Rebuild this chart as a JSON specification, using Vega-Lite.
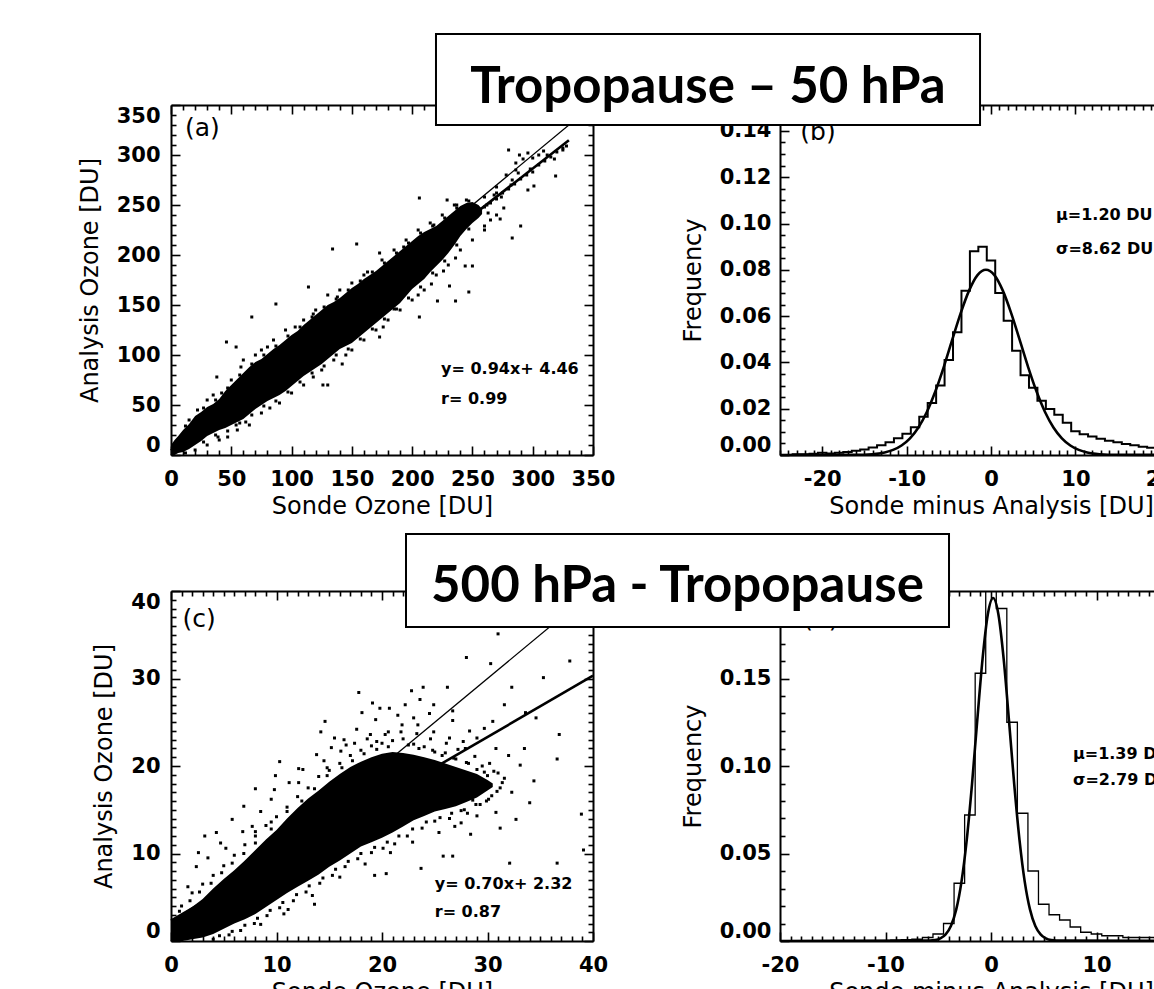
{
  "$schema": "https://vega.github.io/schema/vega-lite/v6.json",
  "padding": {"left": 78, "top": 32, "right": 0, "bottom": 0},
  "background": "white",
  "columns": 2,
  "spacing": {"row": 136, "column": 187},
  "bounds": "flush",
  "datasets": {
    "a_band": [
      {"x":0,"lo":0,"hi":10},{"x":3,"lo":0,"hi":15},{"x":6,"lo":2,"hi":19},{"x":10,"lo":3,"hi":25},{"x":15,"lo":6,"hi":31},
      {"x":20,"lo":10,"hi":39},{"x":25,"lo":14,"hi":43},{"x":30,"lo":19,"hi":48},{"x":35,"lo":22,"hi":51},{"x":40,"lo":25,"hi":56},
      {"x":45,"lo":27,"hi":64},{"x":50,"lo":30,"hi":70},{"x":55,"lo":33,"hi":76},{"x":60,"lo":36,"hi":82},{"x":65,"lo":41,"hi":88},
      {"x":70,"lo":46,"hi":93},{"x":75,"lo":50,"hi":96},{"x":80,"lo":54,"hi":101},{"x":85,"lo":57,"hi":106},{"x":90,"lo":60,"hi":110},
      {"x":95,"lo":64,"hi":115},{"x":100,"lo":69,"hi":120},{"x":105,"lo":74,"hi":124},{"x":110,"lo":79,"hi":130},{"x":115,"lo":83,"hi":135},
      {"x":120,"lo":87,"hi":140},{"x":125,"lo":91,"hi":145},{"x":130,"lo":96,"hi":150},{"x":135,"lo":101,"hi":153},{"x":140,"lo":106,"hi":157},
      {"x":145,"lo":109,"hi":162},{"x":150,"lo":112,"hi":167},{"x":155,"lo":117,"hi":171},{"x":160,"lo":122,"hi":176},{"x":165,"lo":127,"hi":180},
      {"x":170,"lo":132,"hi":184},{"x":175,"lo":137,"hi":189},{"x":180,"lo":142,"hi":194},{"x":185,"lo":147,"hi":199},{"x":190,"lo":152,"hi":204},
      {"x":195,"lo":159,"hi":209},{"x":200,"lo":166,"hi":214},{"x":205,"lo":171,"hi":219},{"x":210,"lo":176,"hi":223},{"x":215,"lo":183,"hi":226},
      {"x":220,"lo":189,"hi":229},{"x":225,"lo":195,"hi":234},{"x":230,"lo":202,"hi":239},{"x":235,"lo":210,"hi":244},{"x":240,"lo":219,"hi":249},
      {"x":245,"lo":226,"hi":252},{"x":250,"lo":232,"hi":253},{"x":255,"lo":237,"hi":250},{"x":258,"lo":241,"hi":246}
    ],
    "a_pts": [
      {"x":206,"y":257},{"x":229,"y":255},{"x":237,"y":250},{"x":154,"y":211},{"x":134,"y":206},{"x":173,"y":202},{"x":244,"y":236},
      {"x":270,"y":262},{"x":276,"y":247},{"x":283,"y":275},{"x":289,"y":300},{"x":296,"y":265},{"x":301,"y":269},{"x":319,"y":279},
      {"x":283,"y":217},{"x":247,"y":163},{"x":236,"y":154},{"x":206,"y":138},{"x":221,"y":154},{"x":231,"y":169},{"x":244,"y":189},
      {"x":250,"y":189},{"x":263,"y":242},{"x":273,"y":236},{"x":290,"y":229},{"x":114,"y":168},{"x":87,"y":151},{"x":67,"y":138},
      {"x":46,"y":113},{"x":54,"y":108},{"x":38,"y":78},{"x":126,"y":70},{"x":130,"y":70},{"x":142,"y":91},{"x":173,"y":118},{"x":47,"y":18},
      {"x":39,"y":18},{"x":54,"y":30},{"x":64,"y":46},{"x":185,"y":146},{"x":216,"y":171},{"x":260,"y":229},{"x":280,"y":305},
      {"x":309,"y":304},{"x":325,"y":305},{"x":296,"y":302},{"x":286,"y":292},
      {"x":30,"y":55},{"x":35,"y":60},{"x":22,"y":45},{"x":15,"y":35},{"x":60,"y":95},{"x":70,"y":100},{"x":50,"y":75},{"x":75,"y":105},
      {"x":85,"y":115},{"x":95,"y":125},{"x":110,"y":135},{"x":120,"y":145},{"x":130,"y":160},{"x":140,"y":165},{"x":150,"y":172},
      {"x":160,"y":180},{"x":175,"y":195},{"x":185,"y":205},{"x":195,"y":215},{"x":205,"y":225},{"x":215,"y":232},{"x":225,"y":240},
      {"x":235,"y":250},{"x":245,"y":255},
      {"x":20,"y":5},{"x":30,"y":10},{"x":40,"y":15},{"x":55,"y":25},{"x":65,"y":30},{"x":75,"y":42},{"x":90,"y":52},{"x":100,"y":62},
      {"x":110,"y":70},{"x":125,"y":85},{"x":135,"y":95},{"x":150,"y":105},{"x":160,"y":115},{"x":170,"y":125},{"x":180,"y":135},
      {"x":190,"y":145},{"x":200,"y":155},{"x":210,"y":165},{"x":220,"y":180},{"x":230,"y":190},{"x":240,"y":205},{"x":250,"y":215},
      {"x":260,"y":225},{"x":265,"y":235},{"x":270,"y":240},
      {"x":255,"y":245},{"x":260,"y":248},{"x":265,"y":252},{"x":270,"y":256},{"x":275,"y":262},{"x":280,"y":266},{"x":285,"y":271},
      {"x":290,"y":276},{"x":295,"y":280},{"x":300,"y":283},{"x":305,"y":290},{"x":310,"y":294},{"x":315,"y":298},{"x":320,"y":303},
      {"x":325,"y":307},{"x":328,"y":309},{"x":260,"y":258},{"x":270,"y":268},{"x":278,"y":280},{"x":286,"y":285},{"x":292,"y":296},
      {"x":300,"y":297},{"x":305,"y":300},{"x":262,"y":250},{"x":268,"y":260},{"x":274,"y":258},{"x":282,"y":270},{"x":288,"y":282},
      {"x":298,"y":286},{"x":312,"y":300},{"x":318,"y":296},
      {"x":42,"y":62},{"x":58,"y":88},{"x":80,"y":108},{"x":103,"y":128},{"x":118,"y":141},{"x":138,"y":158},{"x":163,"y":183},
      {"x":193,"y":208},{"x":218,"y":230},{"x":62,"y":33},{"x":82,"y":47},{"x":118,"y":78},{"x":145,"y":100},{"x":176,"y":128},
      {"x":205,"y":160},{"x":226,"y":184},{"x":236,"y":197},
      {"x":12,"y":29},{"x":27,"y":47},{"x":37,"y":55},{"x":47,"y":67},{"x":57,"y":80},{"x":67,"y":91},{"x":77,"y":100},{"x":87,"y":109},
      {"x":97,"y":119},{"x":107,"y":128},{"x":117,"y":138},{"x":127,"y":148},{"x":137,"y":156},{"x":147,"y":165},{"x":157,"y":174},
      {"x":167,"y":183},{"x":177,"y":192},{"x":187,"y":202},{"x":197,"y":212},{"x":207,"y":222},{"x":217,"y":229},{"x":227,"y":237},
      {"x":237,"y":247},{"x":247,"y":254},
      {"x":12,"y":2},{"x":27,"y":13},{"x":37,"y":20},{"x":47,"y":24},{"x":57,"y":32},{"x":67,"y":40},{"x":77,"y":49},{"x":87,"y":54},
      {"x":97,"y":63},{"x":107,"y":73},{"x":117,"y":82},{"x":127,"y":89},{"x":137,"y":100},{"x":147,"y":106},{"x":157,"y":116},
      {"x":167,"y":126},{"x":177,"y":136},{"x":187,"y":146},{"x":197,"y":157},{"x":207,"y":168},{"x":217,"y":182},{"x":227,"y":194},
      {"x":237,"y":210},{"x":247,"y":226}
    ],
    "a_lines": [
      {"line":"one","x":0,"y":0},{"line":"one","x":350,"y":350},
      {"line":"fit","x":0,"y":4.46},{"line":"fit","x":330,"y":314.66}
    ],
    "c_band": [
      {"x":0,"lo":0,"hi":2.3},{"x":0.5,"lo":0,"hi":2.7},{"x":1,"lo":0,"hi":3.1},{"x":1.5,"lo":0.1,"hi":3.5},{"x":2,"lo":0.2,"hi":3.9},
      {"x":3,"lo":0.4,"hi":4.8},{"x":4,"lo":0.8,"hi":6.0},{"x":5,"lo":1.4,"hi":7.1},{"x":6,"lo":2.0,"hi":8.1},{"x":7,"lo":2.5,"hi":9.2},
      {"x":8,"lo":3.1,"hi":10.4},{"x":9,"lo":3.9,"hi":11.6},{"x":10,"lo":4.7,"hi":12.7},{"x":11,"lo":5.5,"hi":14.0},{"x":12,"lo":6.2,"hi":15.2},
      {"x":13,"lo":6.9,"hi":16.3},{"x":14,"lo":7.6,"hi":17.2},{"x":15,"lo":8.5,"hi":18.2},{"x":16,"lo":9.2,"hi":19.1},{"x":17,"lo":10.0,"hi":19.9},
      {"x":18,"lo":10.8,"hi":20.5},{"x":19,"lo":11.3,"hi":21.0},{"x":20,"lo":11.8,"hi":21.4},{"x":21,"lo":12.4,"hi":21.6},{"x":22,"lo":13.1,"hi":21.5},
      {"x":23,"lo":13.8,"hi":21.3},{"x":24,"lo":14.3,"hi":21.0},{"x":25,"lo":14.8,"hi":20.7},{"x":26,"lo":15.1,"hi":20.3},{"x":27,"lo":15.4,"hi":19.9},
      {"x":28,"lo":15.9,"hi":19.5},{"x":29,"lo":16.4,"hi":19.1},{"x":30,"lo":17.2,"hi":18.4},{"x":30.5,"lo":17.6,"hi":18.0}
    ],
    "c_pts": [
      {"x":17.8,"y":28.4},{"x":19.1,"y":27.2},{"x":18.1,"y":26.1},{"x":19.8,"y":26.6},{"x":20.7,"y":26.6},{"x":22.8,"y":28.6},{"x":23.9,"y":29.0},
      {"x":23.6,"y":27.6},{"x":26.2,"y":29.0},{"x":28.0,"y":32.4},{"x":30.3,"y":31.7},{"x":31.0,"y":35.1},{"x":34.0,"y":36.3},{"x":35.3,"y":30.1},
      {"x":33.6,"y":26.1},{"x":37.8,"y":32.0},{"x":36.8,"y":23.6},{"x":36.6,"y":20.8},{"x":38.9,"y":14.5},{"x":39.1,"y":10.4},{"x":36.6,"y":8.9},
      {"x":32.1,"y":8.9},{"x":26.7,"y":9.7},{"x":25.8,"y":9.7},{"x":23.7,"y":8.3},{"x":20.4,"y":7.7},{"x":19.3,"y":7.5},{"x":13.6,"y":4.2},
      {"x":10.7,"y":3.1},{"x":28.4,"y":12.2},{"x":31.2,"y":12.9},{"x":32.7,"y":13.9},{"x":34.0,"y":15.8},{"x":32.3,"y":17.0},{"x":34.4,"y":18.3},
      {"x":33.1,"y":20.1},{"x":32.0,"y":21.2},{"x":33.5,"y":22.0},{"x":30.8,"y":22.0},{"x":29.7,"y":19.3},{"x":28.6,"y":17.8},{"x":30.1,"y":16.2},
      {"x":30.8,"y":14.7},{"x":29.0,"y":14.3},{"x":27.5,"y":13.5},{"x":24.9,"y":23.9},{"x":26.4,"y":23.2},{"x":27.7,"y":22.8},{"x":23.4,"y":24.7},
      {"x":21.9,"y":24.7},{"x":20.6,"y":23.9},{"x":18.9,"y":23.6},{"x":16.6,"y":22.4},{"x":15.5,"y":23.2},{"x":14.6,"y":25.1},{"x":14.2,"y":23.9},
      {"x":12.1,"y":19.7},{"x":10.3,"y":20.5},{"x":9.9,"y":18.9},{"x":9.5,"y":16.2},{"x":8.0,"y":17.4},{"x":6.9,"y":15.4},{"x":5.8,"y":13.9},
      {"x":4.3,"y":12.4},{"x":3.2,"y":12.0},{"x":2.4,"y":8.5},{"x":4.7,"y":11.2},{"x":7.7,"y":13.1},{"x":12.1,"y":18.1},{"x":32.3,"y":29.0},
      {"x":34.6,"y":25.5},{"x":29.7,"y":24.3},{"x":31.6,"y":27.0},{"x":26.7,"y":26.3},{"x":24.9,"y":27.0},{"x":22.2,"y":27.0},{"x":23.0,"y":25.5},
      {"x":27.9,"y":22.0},{"x":29.0,"y":23.2},{"x":30.5,"y":25.1},
      {"x":13,"y":17.5},{"x":14,"y":18.8},{"x":15,"y":19.5},{"x":16,"y":20.3},{"x":17,"y":21.2},{"x":18,"y":21.8},{"x":19,"y":22.3},{"x":20,"y":22.6},
      {"x":21,"y":22.9},{"x":22,"y":23.1},{"x":23,"y":22.5},{"x":24,"y":22.2},{"x":25,"y":21.6},{"x":26,"y":21.5},{"x":27,"y":20.8},{"x":28,"y":20.4},
      {"x":29,"y":19.6},{"x":30,"y":18.9},{"x":31,"y":19.2},{"x":29.5,"y":17.2},{"x":28.6,"y":16.1},{"x":27.5,"y":14.9},{"x":26.4,"y":14.0},
      {"x":25,"y":13.7},{"x":23.8,"y":12.9},{"x":22.4,"y":12.0},{"x":21.2,"y":11.1},{"x":20.1,"y":10.6},{"x":19,"y":10.1},{"x":17.7,"y":9.4},
      {"x":16.5,"y":8.5},{"x":15.3,"y":7.5},{"x":14.1,"y":6.6},{"x":12.8,"y":5.6},{"x":11.6,"y":4.6},{"x":10.3,"y":3.8},{"x":9.1,"y":2.9},
      {"x":7.9,"y":2.0},{"x":6.6,"y":1.2},{"x":5.5,"y":0.7},{"x":4,"y":0.2},
      {"x":1,"y":4},{"x":2,"y":5.5},{"x":3,"y":6.5},{"x":4,"y":7.5},{"x":5,"y":8.6},{"x":6,"y":9.8},{"x":7,"y":11},{"x":8,"y":12},{"x":9,"y":13.2},
      {"x":10,"y":14.2},{"x":11,"y":15.3},{"x":12,"y":16.5},{"x":3.5,"y":9.5},{"x":5.2,"y":10.6},{"x":6.8,"y":12.5},{"x":8.5,"y":14.8},
      {"x":9.8,"y":17.3},{"x":11.2,"y":18.1},{"x":12.5,"y":19.6},{"x":13.8,"y":21.3},{"x":15.2,"y":22.1},{"x":16.4,"y":23},{"x":17.6,"y":24.2},
      {"x":19.4,"y":25.3},{"x":21.5,"y":25.8},{"x":24.5,"y":26},{"x":26.7,"y":25.2},{"x":28.3,"y":24},
      {"x":14.5,"y":20.6},{"x":16.1,"y":21.7},{"x":17.4,"y":22.6},{"x":18.6,"y":23.1},{"x":20.3,"y":23.6},{"x":21.8,"y":23.9},{"x":23.3,"y":23.7},
      {"x":24.6,"y":23.1},{"x":26.1,"y":22.6},{"x":27.2,"y":21.9},{"x":28.8,"y":21.1},{"x":30.2,"y":20.3},{"x":31.4,"y":18.1},{"x":30.9,"y":17.1},
      {"x":29.3,"y":15.6},{"x":28.1,"y":14.6},{"x":26.9,"y":13.1},{"x":25.4,"y":12.4},{"x":22.9,"y":11.3},{"x":20.8,"y":10.1},{"x":18.4,"y":8.8},
      {"x":16.0,"y":7.3},{"x":13.4,"y":5.2},{"x":11.1,"y":3.6},{"x":8.5,"y":1.9},{"x":2.6,"y":10.1},{"x":1.6,"y":6.2},
      {"x":8,"y":11.2},{"x":8,"y":12.5},{"x":9.5,"y":12.8},{"x":9.5,"y":13.6},{"x":11,"y":14.8},{"x":12.4,"y":16.0},{"x":13.6,"y":17.4},
      {"x":14.8,"y":18.9},{"x":14.8,"y":19.8},{"x":16.2,"y":19.8},{"x":17.2,"y":20.6},{"x":18.3,"y":21.4},{"x":19.5,"y":21.9},{"x":19.5,"y":22.8},
      {"x":20.6,"y":22.2},{"x":22.5,"y":22.4},{"x":23.5,"y":22.0},{"x":24.8,"y":21.8},{"x":25.7,"y":21.2},{"x":26.8,"y":20.9},{"x":28.2,"y":20.3},
      {"x":29.5,"y":20.0},{"x":30.6,"y":19.4},{"x":31.6,"y":18.6},{"x":31.2,"y":17.5},{"x":30.4,"y":16.6},{"x":29.9,"y":16.0},{"x":28.9,"y":15.6},
      {"x":27.8,"y":15.0},{"x":26.6,"y":14.6},{"x":25.5,"y":14.1},{"x":24.2,"y":13.6},{"x":22.9,"y":12.8},{"x":21.6,"y":12.0},{"x":20.5,"y":11.3},
      {"x":19.3,"y":10.7},{"x":18.0,"y":10.0},{"x":16.8,"y":9.1},{"x":15.6,"y":8.2},{"x":14.4,"y":7.2},{"x":13.1,"y":6.3},{"x":11.9,"y":5.3},
      {"x":10.6,"y":4.4},{"x":9.4,"y":3.5},{"x":8.2,"y":2.6},{"x":7,"y":1.8},{"x":5.8,"y":1.1},{"x":4.6,"y":0.6},
      {"x":0.8,"y":3.4},{"x":1.8,"y":4.6},{"x":2.7,"y":5.6},{"x":3.8,"y":6.6},{"x":4.8,"y":7.8},{"x":5.8,"y":8.9},{"x":6.9,"y":10.0}
    ],
    "c_lines": [
      {"line":"one","x":0,"y":0},{"line":"one","x":40,"y":40},
      {"line":"fit","x":0,"y":2.32},{"line":"fit","x":40,"y":30.32}
    ],
    "b_hist": [
      {"x":-25,"f":0},{"x":-24.5,"f":0},{"x":-23.5,"f":0.0003},{"x":-22.5,"f":0.0003},{"x":-21.5,"f":0.0005},{"x":-20.5,"f":0.001},
      {"x":-19.5,"f":0.0007},{"x":-18.5,"f":0.001},{"x":-17.5,"f":0.0013},{"x":-16.5,"f":0.0018},{"x":-15.5,"f":0.0024},{"x":-14.5,"f":0.0032},
      {"x":-13.5,"f":0.0042},{"x":-12.5,"f":0.0055},{"x":-11.5,"f":0.0072},{"x":-10.5,"f":0.0092},{"x":-9.5,"f":0.012},{"x":-8.5,"f":0.0165},
      {"x":-7.5,"f":0.0225},{"x":-6.5,"f":0.03},{"x":-5.5,"f":0.041},{"x":-4.5,"f":0.053},{"x":-3.5,"f":0.071},{"x":-2.5,"f":0.088},
      {"x":-1.5,"f":0.09},{"x":-0.5,"f":0.084},{"x":0.5,"f":0.07},{"x":1.5,"f":0.058},{"x":2.5,"f":0.045},{"x":3.5,"f":0.0345},
      {"x":4.5,"f":0.029},{"x":5.5,"f":0.0234},{"x":6.5,"f":0.0199},{"x":7.5,"f":0.0174},{"x":8.5,"f":0.0139},{"x":9.5,"f":0.0103},
      {"x":10.5,"f":0.009},{"x":11.5,"f":0.008},{"x":12.5,"f":0.007},{"x":13.5,"f":0.0062},{"x":14.5,"f":0.0055},{"x":15.5,"f":0.0048},
      {"x":16.5,"f":0.0042},{"x":17.5,"f":0.0036},{"x":18.5,"f":0.0031},{"x":19.5,"f":0.0027},{"x":20.5,"f":0.0024},{"x":21.5,"f":0.0021},
      {"x":22.5,"f":0.0018},{"x":23.5,"f":0.0016},{"x":24.5,"f":0.0015},{"x":25,"f":0.0015}
    ],
    "b_fit": [
      {"x":-25,"f":0},{"x":-15.6,"f":0.0001},{"x":-14.6,"f":0.0002},{"x":-13.6,"f":0.0005},{"x":-12.6,"f":0.0011},{"x":-11.6,"f":0.0022},
      {"x":-10.6,"f":0.0041},{"x":-9.6,"f":0.0072},{"x":-8.6,"f":0.0119},{"x":-7.6,"f":0.0186},{"x":-6.6,"f":0.0274},{"x":-5.6,"f":0.038},
      {"x":-4.6,"f":0.0497},{"x":-3.6,"f":0.0612},{"x":-2.6,"f":0.071},{"x":-1.6,"f":0.0777},{"x":-0.6,"f":0.08},{"x":0.4,"f":0.0777},
      {"x":1.4,"f":0.071},{"x":2.4,"f":0.0612},{"x":3.4,"f":0.0497},{"x":4.4,"f":0.038},{"x":5.4,"f":0.0274},{"x":6.4,"f":0.0186},
      {"x":7.4,"f":0.0119},{"x":8.4,"f":0.0072},{"x":9.4,"f":0.0041},{"x":10.4,"f":0.0022},{"x":11.4,"f":0.0011},{"x":12.4,"f":0.0005},
      {"x":13.4,"f":0.0002},{"x":14.4,"f":0.0001},{"x":25,"f":0}
    ],
    "d_hist": [
      {"x":-20,"f":0},{"x":-9.5,"f":0.0005},{"x":-8.5,"f":0.0008},{"x":-7.5,"f":0.001},{"x":-6.5,"f":0.002},{"x":-5.5,"f":0.004},
      {"x":-4.5,"f":0.01},{"x":-3.5,"f":0.033},{"x":-2.5,"f":0.072},{"x":-1.5,"f":0.153},{"x":-0.5,"f":0.215},{"x":0.5,"f":0.19},
      {"x":1.5,"f":0.125},{"x":2.5,"f":0.073},{"x":3.5,"f":0.04},{"x":4.5,"f":0.021},{"x":5.5,"f":0.015},{"x":6.5,"f":0.012},
      {"x":7.5,"f":0.008},{"x":8.5,"f":0.005},{"x":9.5,"f":0.004},{"x":10.5,"f":0.003},{"x":11.5,"f":0.003},{"x":12.5,"f":0.002},
      {"x":13.5,"f":0.002},{"x":14.5,"f":0.002},{"x":15.5,"f":0.0015},{"x":16.5,"f":0.0015},{"x":17.5,"f":0.001},{"x":18.5,"f":0.001},
      {"x":19.5,"f":0.001},{"x":20,"f":0.001}
    ],
    "d_fit": [
      {"x":-20,"f":0},{"x":-5.8,"f":0.0002},{"x":-5.3,"f":0.0005},{"x":-4.8,"f":0.0015},{"x":-4.3,"f":0.0038},{"x":-3.8,"f":0.0086},
      {"x":-3.3,"f":0.0179},{"x":-2.8,"f":0.0338},{"x":-2.3,"f":0.0578},{"x":-1.8,"f":0.0897},{"x":-1.3,"f":0.1263},{"x":-0.8,"f":0.1612},
      {"x":-0.3,"f":0.1867},{"x":0.2,"f":0.196},{"x":0.7,"f":0.1867},{"x":1.2,"f":0.1612},{"x":1.7,"f":0.1263},{"x":2.2,"f":0.0897},
      {"x":2.7,"f":0.0578},{"x":3.2,"f":0.0338},{"x":3.7,"f":0.0179},{"x":4.2,"f":0.0086},{"x":4.7,"f":0.0038},{"x":5.2,"f":0.0015},
      {"x":5.7,"f":0.0005},{"x":6.2,"f":0.0002},{"x":20,"f":0}
    ]
  },
  "concat": [
    {
      "width": 422, "height": 350,
      "layer": [
        {
          "data": {"name": "a_band"},
          "mark": {"type": "area", "color": "black", "opacity": 1},
          "encoding": {
            "x": {"field": "x", "type": "quantitative", "scale": {"domain": [0, 350], "nice": false, "zero": false},
              "axis": {"orient": "top", "values": [0,10,20,30,40,50,60,70,80,90,100,110,120,130,140,150,160,170,180,190,200,210,220,230,240,250,260,270,280,290,300,310,320,330,340,350],
                "labels": false, "title": null, "tickSize": {"condition": {"test": "datum.value % 50 == 0", "value": -9}, "value": -5}}},
            "y": {"field": "lo", "type": "quantitative", "scale": {"domain": [0, 350], "nice": false, "zero": false},
              "axis": {"orient": "right", "values": [0,10,20,30,40,50,60,70,80,90,100,110,120,130,140,150,160,170,180,190,200,210,220,230,240,250,260,270,280,290,300,310,320,330,340,350],
                "labels": false, "title": null, "tickSize": {"condition": {"test": "datum.value % 50 == 0", "value": -9}, "value": -5}}},
            "y2": {"field": "hi"}
          }
        },
        {
          "data": {"name": "a_pts"},
          "mark": {"type": "point", "shape": "square", "filled": true, "size": 9, "color": "black", "opacity": 1, "strokeWidth": 0},
          "encoding": {
            "x": {"field": "x", "type": "quantitative", "scale": {"domain": [0, 350], "nice": false, "zero": false},
              "axis": {"orient": "bottom", "values": [0,10,20,30,40,50,60,70,80,90,100,110,120,130,140,150,160,170,180,190,200,210,220,230,240,250,260,270,280,290,300,310,320,330,340,350],
                "labelExpr": "datum.value % 50 == 0 ? '' + datum.value : ''", "labelFlush": false, "labelPadding": 22,
                "tickSize": {"condition": {"test": "datum.value % 50 == 0", "value": -9}, "value": -5},
                "title": "Sonde Ozone [DU]", "titlePadding": 1}},
            "y": {"field": "y", "type": "quantitative", "scale": {"domain": [0, 350], "nice": false, "zero": false},
              "axis": {"orient": "left", "values": [0,10,20,30,40,50,60,70,80,90,100,110,120,130,140,150,160,170,180,190,200,210,220,230,240,250,260,270,280,290,300,310,320,330,340,350],
                "labelExpr": "datum.value % 50 == 0 ? '' + datum.value : ''", "labelFlush": true, "labelPadding": 20,
                "tickSize": {"condition": {"test": "datum.value % 50 == 0", "value": -9}, "value": -5},
                "title": "Analysis Ozone [DU]", "titlePadding": 14}}
          }
        },
        {
          "data": {"name": "a_lines"},
          "transform": [{"filter": "datum.line == 'one'"}],
          "mark": {"type": "line", "color": "black", "strokeWidth": 1.3},
          "encoding": {
            "x": {"field": "x", "type": "quantitative", "scale": {"domain": [0, 350], "nice": false, "zero": false}, "axis": null},
            "y": {"field": "y", "type": "quantitative", "scale": {"domain": [0, 350], "nice": false, "zero": false}, "axis": null}
          }
        },
        {
          "data": {"name": "a_lines"},
          "transform": [{"filter": "datum.line == 'fit'"}],
          "mark": {"type": "line", "color": "black", "strokeWidth": 2.6},
          "encoding": {
            "x": {"field": "x", "type": "quantitative", "scale": {"domain": [0, 350], "nice": false, "zero": false}, "axis": null},
            "y": {"field": "y", "type": "quantitative", "scale": {"domain": [0, 350], "nice": false, "zero": false}, "axis": null}
          }
        },
        {
          "data": {"values": [{"x": 224, "y": 86, "t": "y= 0.94x+ 4.46"}, {"x": 224, "y": 56, "t": "r= 0.99"}]},
          "mark": {"type": "text", "align": "left", "baseline": "middle", "font": "DejaVu Sans", "fontSize": 16, "fontWeight": "bold", "color": "black"},
          "encoding": {
            "x": {"field": "x", "type": "quantitative", "scale": {"domain": [0, 350], "nice": false, "zero": false}, "axis": null},
            "y": {"field": "y", "type": "quantitative", "scale": {"domain": [0, 350], "nice": false, "zero": false}, "axis": null},
            "text": {"field": "t"}
          }
        },
        {
          "data": {"values": [{"x": 11.6, "y": 327, "t": "(a)"}]},
          "mark": {"type": "text", "align": "left", "baseline": "middle", "font": "DejaVu Sans", "fontSize": 25, "color": "black"},
          "encoding": {
            "x": {"field": "x", "type": "quantitative", "scale": {"domain": [0, 350], "nice": false, "zero": false}, "axis": null},
            "y": {"field": "y", "type": "quantitative", "scale": {"domain": [0, 350], "nice": false, "zero": false}, "axis": null},
            "text": {"field": "t"}
          }
        }
      ],
      "resolve": {"axis": {"x": "independent", "y": "independent"}}
    },
    {
      "width": 422, "height": 350,
      "layer": [
        {
          "data": {"name": "b_hist"},
          "mark": {"type": "line", "interpolate": "step-after", "color": "black", "strokeWidth": 2},
          "encoding": {
            "x": {"field": "x", "type": "quantitative", "scale": {"domain": [-25, 25], "nice": false, "zero": false},
              "axis": {"orient": "top", "values": [-25,-24,-23,-22,-21,-20,-19,-18,-17,-16,-15,-14,-13,-12,-11,-10,-9,-8,-7,-6,-5,-4,-3,-2,-1,0,1,2,3,4,5,6,7,8,9,10,11,12,13,14,15,16,17,18,19,20,21,22,23,24,25],
                "labels": false, "title": null, "tickSize": {"condition": {"test": "datum.value % 10 == 0", "value": -9}, "value": -5}}},
            "y": {"field": "f", "type": "quantitative", "scale": {"domain": [0, 0.1512], "nice": false, "zero": false},
              "axis": {"orient": "right", "values": [0,0.005,0.01,0.015,0.02,0.025,0.03,0.035,0.04,0.045,0.05,0.055,0.06,0.065,0.07,0.075,0.08,0.085,0.09,0.095,0.1,0.105,0.11,0.115,0.12,0.125,0.13,0.135,0.14,0.145,0.15],
                "labels": false, "title": null, "tickSize": {"condition": {"test": "round(datum.value*1000) % 20 == 0", "value": -9}, "value": -5}}}
          }
        },
        {
          "data": {"name": "b_fit"},
          "mark": {"type": "line", "interpolate": "monotone", "color": "black", "strokeWidth": 2.6},
          "encoding": {
            "x": {"field": "x", "type": "quantitative", "scale": {"domain": [-25, 25], "nice": false, "zero": false},
              "axis": {"orient": "bottom", "values": [-25,-24,-23,-22,-21,-20,-19,-18,-17,-16,-15,-14,-13,-12,-11,-10,-9,-8,-7,-6,-5,-4,-3,-2,-1,0,1,2,3,4,5,6,7,8,9,10,11,12,13,14,15,16,17,18,19,20,21,22,23,24,25],
                "labelExpr": "datum.value % 10 == 0 ? '' + datum.value : ''", "labelFlush": false, "labelPadding": 22,
                "tickSize": {"condition": {"test": "datum.value % 10 == 0", "value": -9}, "value": -5},
                "title": "Sonde minus Analysis [DU]", "titlePadding": 1}},
            "y": {"field": "f", "type": "quantitative", "scale": {"domain": [0, 0.1512], "nice": false, "zero": false},
              "axis": {"orient": "left", "values": [0,0.005,0.01,0.015,0.02,0.025,0.03,0.035,0.04,0.045,0.05,0.055,0.06,0.065,0.07,0.075,0.08,0.085,0.09,0.095,0.1,0.105,0.11,0.115,0.12,0.125,0.13,0.135,0.14,0.145,0.15],
                "labelExpr": "round(datum.value*1000) % 20 == 0 ? format(datum.value, '.2f') : ''", "labelFlush": true, "labelPadding": 18,
                "tickSize": {"condition": {"test": "round(datum.value*1000) % 20 == 0", "value": -9}, "value": -5},
                "title": "Frequency", "titlePadding": 14}}
          }
        },
        {
          "data": {"values": [{"x": 7.7, "y": 0.1037, "t": "μ=1.20 DU"}, {"x": 7.7, "y": 0.089, "t": "σ=8.62 DU"}]},
          "mark": {"type": "text", "align": "left", "baseline": "middle", "font": "DejaVu Sans", "fontSize": 16, "fontWeight": "bold", "color": "black"},
          "encoding": {
            "x": {"field": "x", "type": "quantitative", "scale": {"domain": [-25, 25], "nice": false, "zero": false}, "axis": null},
            "y": {"field": "y", "type": "quantitative", "scale": {"domain": [0, 0.1512], "nice": false, "zero": false}, "axis": null},
            "text": {"field": "t"}
          }
        },
        {
          "data": {"values": [{"x": -22.6, "y": 0.1395, "t": "(b)"}]},
          "mark": {"type": "text", "align": "left", "baseline": "middle", "font": "DejaVu Sans", "fontSize": 25, "color": "black"},
          "encoding": {
            "x": {"field": "x", "type": "quantitative", "scale": {"domain": [-25, 25], "nice": false, "zero": false}, "axis": null},
            "y": {"field": "y", "type": "quantitative", "scale": {"domain": [0, 0.1512], "nice": false, "zero": false}, "axis": null},
            "text": {"field": "t"}
          }
        },
        {
          "data": {"values": [{"x": -65.76, "x2": -1.3, "y": 0.1426, "y2": 0.1819}]},
          "mark": {"type": "rect", "fill": "white", "stroke": "black", "strokeWidth": 2},
          "encoding": {
            "x": {"field": "x", "type": "quantitative", "scale": {"domain": [-25, 25], "nice": false, "zero": false}, "axis": null},
            "x2": {"field": "x2"},
            "y": {"field": "y", "type": "quantitative", "scale": {"domain": [0, 0.1512], "nice": false, "zero": false}, "axis": null},
            "y2": {"field": "y2"}
          }
        },
        {
          "data": {"values": [{"x": -33.53, "y": 0.1521, "t": "Tropopause – 50 hPa"}]},
          "mark": {"type": "text", "align": "center", "baseline": "alphabetic", "font": "Lato, Roboto, sans-serif", "fontSize": 51, "fontWeight": "bold", "color": "black"},
          "encoding": {
            "x": {"field": "x", "type": "quantitative", "scale": {"domain": [-25, 25], "nice": false, "zero": false}, "axis": null},
            "y": {"field": "y", "type": "quantitative", "scale": {"domain": [0, 0.1512], "nice": false, "zero": false}, "axis": null},
            "text": {"field": "t"}
          }
        }
      ],
      "resolve": {"axis": {"x": "independent", "y": "independent"}}
    },
    {
      "width": 422, "height": 350,
      "layer": [
        {
          "data": {"name": "c_band"},
          "mark": {"type": "area", "color": "black", "opacity": 1},
          "encoding": {
            "x": {"field": "x", "type": "quantitative", "scale": {"domain": [0, 40], "nice": false, "zero": false},
              "axis": {"orient": "top", "values": [0,1,2,3,4,5,6,7,8,9,10,11,12,13,14,15,16,17,18,19,20,21,22,23,24,25,26,27,28,29,30,31,32,33,34,35,36,37,38,39,40],
                "labels": false, "title": null, "tickSize": {"condition": {"test": "datum.value % 10 == 0", "value": -9}, "value": -5}}},
            "y": {"field": "lo", "type": "quantitative", "scale": {"domain": [0, 40], "nice": false, "zero": false},
              "axis": {"orient": "right", "values": [0,1,2,3,4,5,6,7,8,9,10,11,12,13,14,15,16,17,18,19,20,21,22,23,24,25,26,27,28,29,30,31,32,33,34,35,36,37,38,39,40],
                "labels": false, "title": null, "tickSize": {"condition": {"test": "datum.value % 10 == 0", "value": -9}, "value": -5}}},
            "y2": {"field": "hi"}
          }
        },
        {
          "data": {"name": "c_pts"},
          "mark": {"type": "point", "shape": "square", "filled": true, "size": 9, "color": "black", "opacity": 1, "strokeWidth": 0},
          "encoding": {
            "x": {"field": "x", "type": "quantitative", "scale": {"domain": [0, 40], "nice": false, "zero": false},
              "axis": {"orient": "bottom", "values": [0,1,2,3,4,5,6,7,8,9,10,11,12,13,14,15,16,17,18,19,20,21,22,23,24,25,26,27,28,29,30,31,32,33,34,35,36,37,38,39,40],
                "labelExpr": "datum.value % 10 == 0 ? '' + datum.value : ''", "labelFlush": false, "labelPadding": 22,
                "tickSize": {"condition": {"test": "datum.value % 10 == 0", "value": -9}, "value": -5},
                "title": "Sonde Ozone [DU]", "titlePadding": 1}},
            "y": {"field": "y", "type": "quantitative", "scale": {"domain": [0, 40], "nice": false, "zero": false},
              "axis": {"orient": "left", "values": [0,1,2,3,4,5,6,7,8,9,10,11,12,13,14,15,16,17,18,19,20,21,22,23,24,25,26,27,28,29,30,31,32,33,34,35,36,37,38,39,40],
                "labelExpr": "datum.value % 10 == 0 ? '' + datum.value : ''", "labelFlush": true, "labelPadding": 20,
                "tickSize": {"condition": {"test": "datum.value % 10 == 0", "value": -9}, "value": -5},
                "title": "Analysis Ozone [DU]", "titlePadding": 14}}
          }
        },
        {
          "data": {"name": "c_lines"},
          "transform": [{"filter": "datum.line == 'one'"}],
          "mark": {"type": "line", "color": "black", "strokeWidth": 1.3},
          "encoding": {
            "x": {"field": "x", "type": "quantitative", "scale": {"domain": [0, 40], "nice": false, "zero": false}, "axis": null},
            "y": {"field": "y", "type": "quantitative", "scale": {"domain": [0, 40], "nice": false, "zero": false}, "axis": null}
          }
        },
        {
          "data": {"name": "c_lines"},
          "transform": [{"filter": "datum.line == 'fit'"}],
          "mark": {"type": "line", "color": "black", "strokeWidth": 2.6},
          "encoding": {
            "x": {"field": "x", "type": "quantitative", "scale": {"domain": [0, 40], "nice": false, "zero": false}, "axis": null},
            "y": {"field": "y", "type": "quantitative", "scale": {"domain": [0, 40], "nice": false, "zero": false}, "axis": null}
          }
        },
        {
          "data": {"values": [{"x": 25.0, "y": 6.5, "t": "y= 0.70x+ 2.32"}, {"x": 25.0, "y": 3.3, "t": "r= 0.87"}]},
          "mark": {"type": "text", "align": "left", "baseline": "middle", "font": "DejaVu Sans", "fontSize": 16, "fontWeight": "bold", "color": "black"},
          "encoding": {
            "x": {"field": "x", "type": "quantitative", "scale": {"domain": [0, 40], "nice": false, "zero": false}, "axis": null},
            "y": {"field": "y", "type": "quantitative", "scale": {"domain": [0, 40], "nice": false, "zero": false}, "axis": null},
            "text": {"field": "t"}
          }
        },
        {
          "data": {"values": [{"x": 1.1, "y": 36.8, "t": "(c)"}]},
          "mark": {"type": "text", "align": "left", "baseline": "middle", "font": "DejaVu Sans", "fontSize": 25, "color": "black"},
          "encoding": {
            "x": {"field": "x", "type": "quantitative", "scale": {"domain": [0, 40], "nice": false, "zero": false}, "axis": null},
            "y": {"field": "y", "type": "quantitative", "scale": {"domain": [0, 40], "nice": false, "zero": false}, "axis": null},
            "text": {"field": "t"}
          }
        }
      ],
      "resolve": {"axis": {"x": "independent", "y": "independent"}}
    },
    {
      "width": 422, "height": 350,
      "layer": [
        {
          "data": {"name": "d_hist"},
          "mark": {"type": "line", "interpolate": "step-after", "color": "black", "strokeWidth": 1.3, "clip": true},
          "encoding": {
            "x": {"field": "x", "type": "quantitative", "scale": {"domain": [-20, 20], "nice": false, "zero": false},
              "axis": {"orient": "top", "values": [-20,-19,-18,-17,-16,-15,-14,-13,-12,-11,-10,-9,-8,-7,-6,-5,-4,-3,-2,-1,0,1,2,3,4,5,6,7,8,9,10,11,12,13,14,15,16,17,18,19,20],
                "labels": false, "title": null, "tickSize": {"condition": {"test": "datum.value % 10 == 0", "value": -9}, "value": -5}}},
            "y": {"field": "f", "type": "quantitative", "scale": {"domain": [0, 0.2], "nice": false, "zero": false},
              "axis": {"orient": "right", "values": [0,0.01,0.02,0.03,0.04,0.05,0.06,0.07,0.08,0.09,0.1,0.11,0.12,0.13,0.14,0.15,0.16,0.17,0.18,0.19,0.2],
                "labels": false, "title": null, "tickSize": {"condition": {"test": "round(datum.value*100) % 5 == 0", "value": -9}, "value": -5}}}
          }
        },
        {
          "data": {"name": "d_fit"},
          "mark": {"type": "line", "interpolate": "monotone", "color": "black", "strokeWidth": 2.6, "clip": true},
          "encoding": {
            "x": {"field": "x", "type": "quantitative", "scale": {"domain": [-20, 20], "nice": false, "zero": false},
              "axis": {"orient": "bottom", "values": [-20,-19,-18,-17,-16,-15,-14,-13,-12,-11,-10,-9,-8,-7,-6,-5,-4,-3,-2,-1,0,1,2,3,4,5,6,7,8,9,10,11,12,13,14,15,16,17,18,19,20],
                "labelExpr": "datum.value % 10 == 0 ? '' + datum.value : ''", "labelFlush": false, "labelPadding": 22,
                "tickSize": {"condition": {"test": "datum.value % 10 == 0", "value": -9}, "value": -5},
                "title": "Sonde minus Analysis [DU]", "titlePadding": 1}},
            "y": {"field": "f", "type": "quantitative", "scale": {"domain": [0, 0.2], "nice": false, "zero": false},
              "axis": {"orient": "left", "values": [0,0.01,0.02,0.03,0.04,0.05,0.06,0.07,0.08,0.09,0.1,0.11,0.12,0.13,0.14,0.15,0.16,0.17,0.18,0.19,0.2],
                "labelExpr": "round(datum.value*100) % 5 == 0 ? format(datum.value, '.2f') : ''", "labelFlush": true, "labelPadding": 18,
                "tickSize": {"condition": {"test": "round(datum.value*100) % 5 == 0", "value": -9}, "value": -5},
                "title": "Frequency", "titlePadding": 14}}
          }
        },
        {
          "data": {"values": [{"x": 7.77, "y": 0.1069, "t": "μ=1.39 DU"}, {"x": 7.77, "y": 0.092, "t": "σ=2.79 DU"}]},
          "mark": {"type": "text", "align": "left", "baseline": "middle", "font": "DejaVu Sans", "fontSize": 16, "fontWeight": "bold", "color": "black"},
          "encoding": {
            "x": {"field": "x", "type": "quantitative", "scale": {"domain": [-20, 20], "nice": false, "zero": false}, "axis": null},
            "y": {"field": "y", "type": "quantitative", "scale": {"domain": [0, 0.2], "nice": false, "zero": false}, "axis": null},
            "text": {"field": "t"}
          }
        },
        {
          "data": {"values": [{"x": -17.8, "y": 0.184, "t": "(d)"}]},
          "mark": {"type": "text", "align": "left", "baseline": "middle", "font": "DejaVu Sans", "fontSize": 25, "color": "black"},
          "encoding": {
            "x": {"field": "x", "type": "quantitative", "scale": {"domain": [-20, 20], "nice": false, "zero": false}, "axis": null},
            "y": {"field": "y", "type": "quantitative", "scale": {"domain": [0, 0.2], "nice": false, "zero": false}, "axis": null},
            "text": {"field": "t"}
          }
        },
        {
          "data": {"values": [{"x": -55.45, "x2": -3.98, "y": 0.1794, "y2": 0.2326}]},
          "mark": {"type": "rect", "fill": "white", "stroke": "black", "strokeWidth": 2},
          "encoding": {
            "x": {"field": "x", "type": "quantitative", "scale": {"domain": [-20, 20], "nice": false, "zero": false}, "axis": null},
            "x2": {"field": "x2"},
            "y": {"field": "y", "type": "quantitative", "scale": {"domain": [0, 0.2], "nice": false, "zero": false}, "axis": null},
            "y2": {"field": "y2"}
          }
        },
        {
          "data": {"values": [{"x": -29.72, "y": 0.1937, "t": "500 hPa - Tropopause"}]},
          "mark": {"type": "text", "align": "center", "baseline": "alphabetic", "font": "Lato, Roboto, sans-serif", "fontSize": 51, "fontWeight": "bold", "color": "black"},
          "encoding": {
            "x": {"field": "x", "type": "quantitative", "scale": {"domain": [-20, 20], "nice": false, "zero": false}, "axis": null},
            "y": {"field": "y", "type": "quantitative", "scale": {"domain": [0, 0.2], "nice": false, "zero": false}, "axis": null},
            "text": {"field": "t"}
          }
        }
      ],
      "resolve": {"axis": {"x": "independent", "y": "independent"}}
    }
  ],
  "config": {
    "font": "DejaVu Sans",
    "view": {"stroke": null},
    "axis": {
      "grid": false, "domainColor": "black", "domainWidth": 2, "tickColor": "black", "tickWidth": 1.6,
      "labelColor": "black", "labelFont": "DejaVu Sans", "labelFontSize": 21, "labelFontWeight": "bold",
      "labelOverlap": false, "labelBound": false,
      "titleColor": "black", "titleFont": "DejaVu Sans", "titleFontSize": 24, "titleFontWeight": "normal", "zindex": 0
    }
  }
}
